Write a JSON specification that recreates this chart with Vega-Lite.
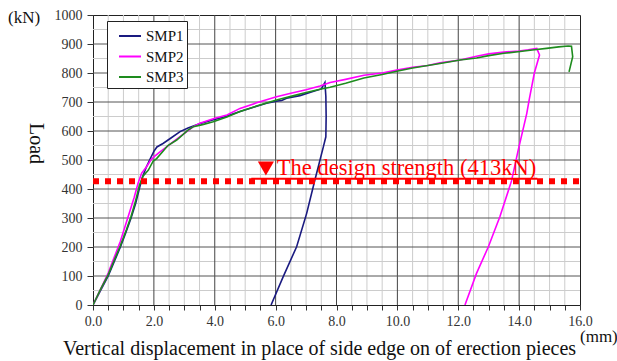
{
  "$schema": "https://vega.github.io/schema/vega-lite/v6.json",
  "width": 487,
  "height": 290,
  "autosize": "none",
  "padding": {"left": 93, "top": 15, "right": 37, "bottom": 56},
  "background": "white",
  "config": {
    "view": {"stroke": "#222", "strokeWidth": 1},
    "font": "Liberation Serif",
    "axis": {"labelFont": "Liberation Serif", "titleFont": "Liberation Serif", "labelColor": "#333333", "titleColor": "#111111", "titleFontWeight": "normal", "grid": false}
  },
  "datasets": {
    "xminor": [{"v":0.5},{"v":1},{"v":1.5},{"v":2.5},{"v":3},{"v":3.5},{"v":4.5},{"v":5},{"v":5.5},{"v":6.5},{"v":7},{"v":7.5},{"v":8.5},{"v":9},{"v":9.5},{"v":10.5},{"v":11},{"v":11.5},{"v":12.5},{"v":13},{"v":13.5},{"v":14.5},{"v":15},{"v":15.5}],
    "xmajor": [{"v":2},{"v":4},{"v":6},{"v":8},{"v":10},{"v":12},{"v":14}],
    "yminor": [{"v":50},{"v":150},{"v":250},{"v":350},{"v":450},{"v":550},{"v":650},{"v":750},{"v":850},{"v":950}],
    "ymajor": [{"v":100},{"v":200},{"v":300},{"v":400},{"v":500},{"v":600},{"v":700},{"v":800},{"v":900}]
  },
  "resolve": {"scale": {"x": "independent", "y": "independent"}, "axis": {"x": "independent", "y": "independent"}},
  "layer": [
    {
      "data": {"name": "xminor"},
      "mark": {"type": "rule", "color": "#cccccc", "strokeWidth": 1},
      "encoding": {"x": {"field": "v", "type": "quantitative", "scale": {"domain": [0, 16], "nice": false, "zero": false}, "axis": null}}
    },
    {
      "data": {"name": "yminor"},
      "mark": {"type": "rule", "color": "#cccccc", "strokeWidth": 1},
      "encoding": {"y": {"field": "v", "type": "quantitative", "scale": {"domain": [0, 1000], "nice": false}, "axis": null}}
    },
    {
      "data": {"name": "xmajor"},
      "mark": {"type": "rule", "color": "#444444", "strokeWidth": 1},
      "encoding": {"x": {"field": "v", "type": "quantitative", "scale": {"domain": [0, 16], "nice": false, "zero": false}, "axis": null}}
    },
    {
      "data": {"name": "ymajor"},
      "mark": {"type": "rule", "color": "#555555", "strokeWidth": 1},
      "encoding": {"y": {"field": "v", "type": "quantitative", "scale": {"domain": [0, 1000], "nice": false}, "axis": null}}
    },
    {
      "data": {"values": [
        {"s":"SMP1","i":0,"x":0,"y":0},{"s":"SMP1","i":1,"x":0.25,"y":50},{"s":"SMP1","i":2,"x":0.5,"y":100},{"s":"SMP1","i":3,"x":0.7,"y":150},{"s":"SMP1","i":4,"x":0.9,"y":200},{"s":"SMP1","i":5,"x":1.08,"y":250},{"s":"SMP1","i":6,"x":1.25,"y":300},{"s":"SMP1","i":7,"x":1.4,"y":350},{"s":"SMP1","i":8,"x":1.52,"y":400},{"s":"SMP1","i":9,"x":1.62,"y":440},{"s":"SMP1","i":10,"x":1.75,"y":475},{"s":"SMP1","i":11,"x":1.86,"y":500},{"s":"SMP1","i":12,"x":2.0,"y":530},{"s":"SMP1","i":13,"x":2.1,"y":545},{"s":"SMP1","i":14,"x":2.3,"y":557},{"s":"SMP1","i":15,"x":2.55,"y":575},{"s":"SMP1","i":16,"x":2.86,"y":598},{"s":"SMP1","i":17,"x":3.12,"y":610},{"s":"SMP1","i":18,"x":3.5,"y":625},{"s":"SMP1","i":19,"x":3.9,"y":637},{"s":"SMP1","i":20,"x":4.3,"y":648},{"s":"SMP1","i":21,"x":4.83,"y":667},{"s":"SMP1","i":22,"x":5.3,"y":683},{"s":"SMP1","i":23,"x":5.7,"y":696},{"s":"SMP1","i":24,"x":6.03,"y":703},{"s":"SMP1","i":25,"x":6.2,"y":705},{"s":"SMP1","i":26,"x":6.36,"y":713},{"s":"SMP1","i":27,"x":6.8,"y":722},{"s":"SMP1","i":28,"x":7.2,"y":735},{"s":"SMP1","i":29,"x":7.5,"y":745},{"s":"SMP1","i":30,"x":7.62,"y":767},{"s":"SMP1","i":31,"x":7.65,"y":720},{"s":"SMP1","i":32,"x":7.66,"y":650},{"s":"SMP1","i":33,"x":7.65,"y":580},{"s":"SMP1","i":34,"x":7.57,"y":546},{"s":"SMP1","i":35,"x":7.29,"y":431},{"s":"SMP1","i":36,"x":7.02,"y":316},{"s":"SMP1","i":37,"x":6.69,"y":201},{"s":"SMP1","i":38,"x":6.25,"y":98},{"s":"SMP1","i":39,"x":5.85,"y":0},
        {"s":"SMP2","i":0,"x":0,"y":0},{"s":"SMP2","i":1,"x":0.25,"y":55},{"s":"SMP2","i":2,"x":0.5,"y":110},{"s":"SMP2","i":3,"x":0.7,"y":165},{"s":"SMP2","i":4,"x":0.9,"y":220},{"s":"SMP2","i":5,"x":1.05,"y":270},{"s":"SMP2","i":6,"x":1.2,"y":320},{"s":"SMP2","i":7,"x":1.35,"y":370},{"s":"SMP2","i":8,"x":1.48,"y":420},{"s":"SMP2","i":9,"x":1.6,"y":455},{"s":"SMP2","i":10,"x":1.76,"y":477},{"s":"SMP2","i":11,"x":1.9,"y":500},{"s":"SMP2","i":12,"x":2.0,"y":511},{"s":"SMP2","i":13,"x":2.2,"y":528},{"s":"SMP2","i":14,"x":2.42,"y":545},{"s":"SMP2","i":15,"x":2.75,"y":572},{"s":"SMP2","i":16,"x":3.08,"y":598},{"s":"SMP2","i":17,"x":3.3,"y":615},{"s":"SMP2","i":18,"x":3.51,"y":627},{"s":"SMP2","i":19,"x":4.0,"y":644},{"s":"SMP2","i":20,"x":4.4,"y":655},{"s":"SMP2","i":21,"x":4.83,"y":678},{"s":"SMP2","i":22,"x":5.4,"y":698},{"s":"SMP2","i":23,"x":6.03,"y":718},{"s":"SMP2","i":24,"x":6.5,"y":730},{"s":"SMP2","i":25,"x":7.0,"y":742},{"s":"SMP2","i":26,"x":7.46,"y":755},{"s":"SMP2","i":27,"x":7.79,"y":767},{"s":"SMP2","i":28,"x":8.3,"y":778},{"s":"SMP2","i":29,"x":8.9,"y":792},{"s":"SMP2","i":30,"x":9.5,"y":800},{"s":"SMP2","i":31,"x":9.98,"y":810},{"s":"SMP2","i":32,"x":10.5,"y":820},{"s":"SMP2","i":33,"x":11.0,"y":826},{"s":"SMP2","i":34,"x":11.4,"y":835},{"s":"SMP2","i":35,"x":12.06,"y":845},{"s":"SMP2","i":36,"x":12.6,"y":858},{"s":"SMP2","i":37,"x":13.0,"y":866},{"s":"SMP2","i":38,"x":13.5,"y":872},{"s":"SMP2","i":39,"x":14.0,"y":876},{"s":"SMP2","i":40,"x":14.3,"y":880},{"s":"SMP2","i":41,"x":14.58,"y":885},{"s":"SMP2","i":42,"x":14.67,"y":862},{"s":"SMP2","i":43,"x":14.5,"y":800},{"s":"SMP2","i":44,"x":14.33,"y":707},{"s":"SMP2","i":45,"x":14.25,"y":660},{"s":"SMP2","i":46,"x":13.97,"y":534},{"s":"SMP2","i":47,"x":13.75,"y":428},{"s":"SMP2","i":48,"x":13.37,"y":305},{"s":"SMP2","i":49,"x":12.99,"y":201},{"s":"SMP2","i":50,"x":12.6,"y":109},{"s":"SMP2","i":51,"x":12.22,"y":0},
        {"s":"SMP3","i":0,"x":0,"y":0},{"s":"SMP3","i":1,"x":0.25,"y":55},{"s":"SMP3","i":2,"x":0.5,"y":105},{"s":"SMP3","i":3,"x":0.7,"y":155},{"s":"SMP3","i":4,"x":0.9,"y":205},{"s":"SMP3","i":5,"x":1.1,"y":260},{"s":"SMP3","i":6,"x":1.25,"y":305},{"s":"SMP3","i":7,"x":1.4,"y":360},{"s":"SMP3","i":8,"x":1.53,"y":415},{"s":"SMP3","i":9,"x":1.65,"y":445},{"s":"SMP3","i":10,"x":1.82,"y":465},{"s":"SMP3","i":11,"x":1.97,"y":495},{"s":"SMP3","i":12,"x":2.09,"y":505},{"s":"SMP3","i":13,"x":2.3,"y":530},{"s":"SMP3","i":14,"x":2.46,"y":550},{"s":"SMP3","i":15,"x":2.75,"y":569},{"s":"SMP3","i":16,"x":3.12,"y":603},{"s":"SMP3","i":17,"x":3.3,"y":615},{"s":"SMP3","i":18,"x":3.6,"y":622},{"s":"SMP3","i":19,"x":3.95,"y":632},{"s":"SMP3","i":20,"x":4.4,"y":648},{"s":"SMP3","i":21,"x":4.83,"y":667},{"s":"SMP3","i":22,"x":5.4,"y":687},{"s":"SMP3","i":23,"x":6.03,"y":707},{"s":"SMP3","i":24,"x":6.6,"y":722},{"s":"SMP3","i":25,"x":7.0,"y":733},{"s":"SMP3","i":26,"x":7.46,"y":744},{"s":"SMP3","i":27,"x":7.79,"y":751},{"s":"SMP3","i":28,"x":8.3,"y":765},{"s":"SMP3","i":29,"x":8.9,"y":783},{"s":"SMP3","i":30,"x":9.5,"y":795},{"s":"SMP3","i":31,"x":9.98,"y":806},{"s":"SMP3","i":32,"x":10.5,"y":817},{"s":"SMP3","i":33,"x":11.0,"y":826},{"s":"SMP3","i":34,"x":11.4,"y":833},{"s":"SMP3","i":35,"x":12.06,"y":845},{"s":"SMP3","i":36,"x":12.6,"y":852},{"s":"SMP3","i":37,"x":13.0,"y":860},{"s":"SMP3","i":38,"x":13.5,"y":868},{"s":"SMP3","i":39,"x":14.03,"y":874},{"s":"SMP3","i":40,"x":14.5,"y":880},{"s":"SMP3","i":41,"x":14.9,"y":885},{"s":"SMP3","i":42,"x":15.3,"y":890},{"s":"SMP3","i":43,"x":15.61,"y":893},{"s":"SMP3","i":44,"x":15.72,"y":892},{"s":"SMP3","i":45,"x":15.76,"y":856},{"s":"SMP3","i":46,"x":15.64,"y":804}
      ]},
      "mark": {"type": "line", "strokeWidth": 1.6, "clip": true},
      "encoding": {
        "x": {
          "field": "x", "type": "quantitative",
          "scale": {"domain": [0, 16], "nice": false, "zero": false},
          "axis": {
            "orient": "bottom",
            "values": [0,0.5,1,1.5,2,2.5,3,3.5,4,4.5,5,5.5,6,6.5,7,7.5,8,8.5,9,9.5,10,10.5,11,11.5,12,12.5,13,13.5,14,14.5,15,15.5,16],
            "labelExpr": "datum.value % 2 === 0 ? format(datum.value, '.1f') : ''",
            "grid": false,
            "labelFont": "Liberation Serif", "labelFontSize": 14, "labelPadding": 4,
            "labelFlush": false, "labelOverlap": false,
            "tickColor": "#333333", "tickSize": 5,
            "domainColor": "#222222",
            "title": "Vertical displacement in place of side edge on of erection pieces",
            "titleFont": "Liberation Serif", "titleFontSize": 20, "titleFontWeight": "normal",
            "titleX": 226, "titleY": 49, "titleAlign": "center", "titleBaseline": "alphabetic"
          }
        },
        "y": {
          "field": "y", "type": "quantitative",
          "scale": {"domain": [0, 1000], "nice": false},
          "axis": {
            "orient": "left",
            "values": [0,100,200,300,400,500,600,700,800,900,1000],
            "format": "d",
            "grid": false,
            "labelFont": "Liberation Serif", "labelFontSize": 14, "labelPadding": 5,
            "labelFlush": false, "labelOverlap": false,
            "tickColor": "#333333", "tickSize": 6,
            "domainColor": "#222222",
            "title": "Load",
            "titleFont": "Liberation Serif", "titleFontSize": 20, "titleFontWeight": "normal",
            "titleAngle": 90, "titleX": -58, "titleY": 128, "titleAlign": "center", "titleBaseline": "middle"
          }
        },
        "color": {
          "field": "s", "type": "nominal",
          "scale": {"domain": ["SMP1", "SMP2", "SMP3"], "range": ["#1a1a80", "#ff00ff", "#1e8c1e"]},
          "legend": {
            "title": null, "orient": "none", "legendX": 14, "legendY": 6,
            "strokeColor": "#222222", "fillColor": "white", "padding": 3,
            "symbolType": "stroke", "symbolSize": 484, "symbolStrokeWidth": 2, "symbolOffset": 8,
            "labelFont": "Liberation Serif", "labelFontSize": 15, "labelColor": "#111111",
            "rowPadding": 0.5, "labelOffset": 4
          }
        },
        "order": {"field": "i", "type": "quantitative"}
      }
    },
    {
      "data": {"values": [{"x": 0, "x2": 16, "y": 427}]},
      "mark": {"type": "rule", "color": "#ff0000", "strokeWidth": 6, "strokeDash": [6, 6]},
      "encoding": {
        "x": {"field": "x", "type": "quantitative", "scale": {"domain": [0, 16], "nice": false, "zero": false}, "axis": null},
        "x2": {"field": "x2"},
        "y": {"field": "y", "type": "quantitative", "scale": {"domain": [0, 1000], "nice": false}, "axis": null}
      }
    },
    {
      "data": {"values": [{"x": 5.2, "x2": 14.6, "y": 435}]},
      "mark": {"type": "rule", "color": "#ff0000", "strokeWidth": 2},
      "encoding": {
        "x": {"field": "x", "type": "quantitative", "scale": {"domain": [0, 16], "nice": false, "zero": false}, "axis": null},
        "x2": {"field": "x2"},
        "y": {"field": "y", "type": "quantitative", "scale": {"domain": [0, 1000], "nice": false}, "axis": null}
      }
    },
    {
      "data": {"values": [{"x": 5.68, "y": 471}]},
      "mark": {"type": "point", "shape": "triangle-down", "filled": true, "color": "#ff0000", "size": 260, "opacity": 1},
      "encoding": {
        "x": {"field": "x", "type": "quantitative", "scale": {"domain": [0, 16], "nice": false, "zero": false}, "axis": null},
        "y": {"field": "y", "type": "quantitative", "scale": {"domain": [0, 1000], "nice": false}, "axis": null}
      }
    },
    {
      "data": {"values": [{"x": 6.04, "y": 448, "label": "The design strength (413kN)"}]},
      "mark": {"type": "text", "align": "left", "baseline": "alphabetic", "font": "Liberation Serif", "fontSize": 22.5, "color": "#ff0000"},
      "encoding": {
        "x": {"field": "x", "type": "quantitative", "scale": {"domain": [0, 16], "nice": false, "zero": false}, "axis": null},
        "y": {"field": "y", "type": "quantitative", "scale": {"domain": [0, 1000], "nice": false}, "axis": null},
        "text": {"field": "label"}
      }
    },
    {
      "data": {"values": [{"x": -2.79, "y": 972, "label": "(kN)"}, {"x": 16.0, "y": -128, "label": "(mm)"}]},
      "mark": {"type": "text", "align": "left", "baseline": "alphabetic", "font": "Liberation Serif", "fontSize": 17, "color": "#111111"},
      "encoding": {
        "x": {"field": "x", "type": "quantitative", "scale": {"domain": [0, 16], "nice": false, "zero": false}, "axis": null},
        "y": {"field": "y", "type": "quantitative", "scale": {"domain": [0, 1000], "nice": false}, "axis": null},
        "text": {"field": "label"}
      }
    }
  ]
}
